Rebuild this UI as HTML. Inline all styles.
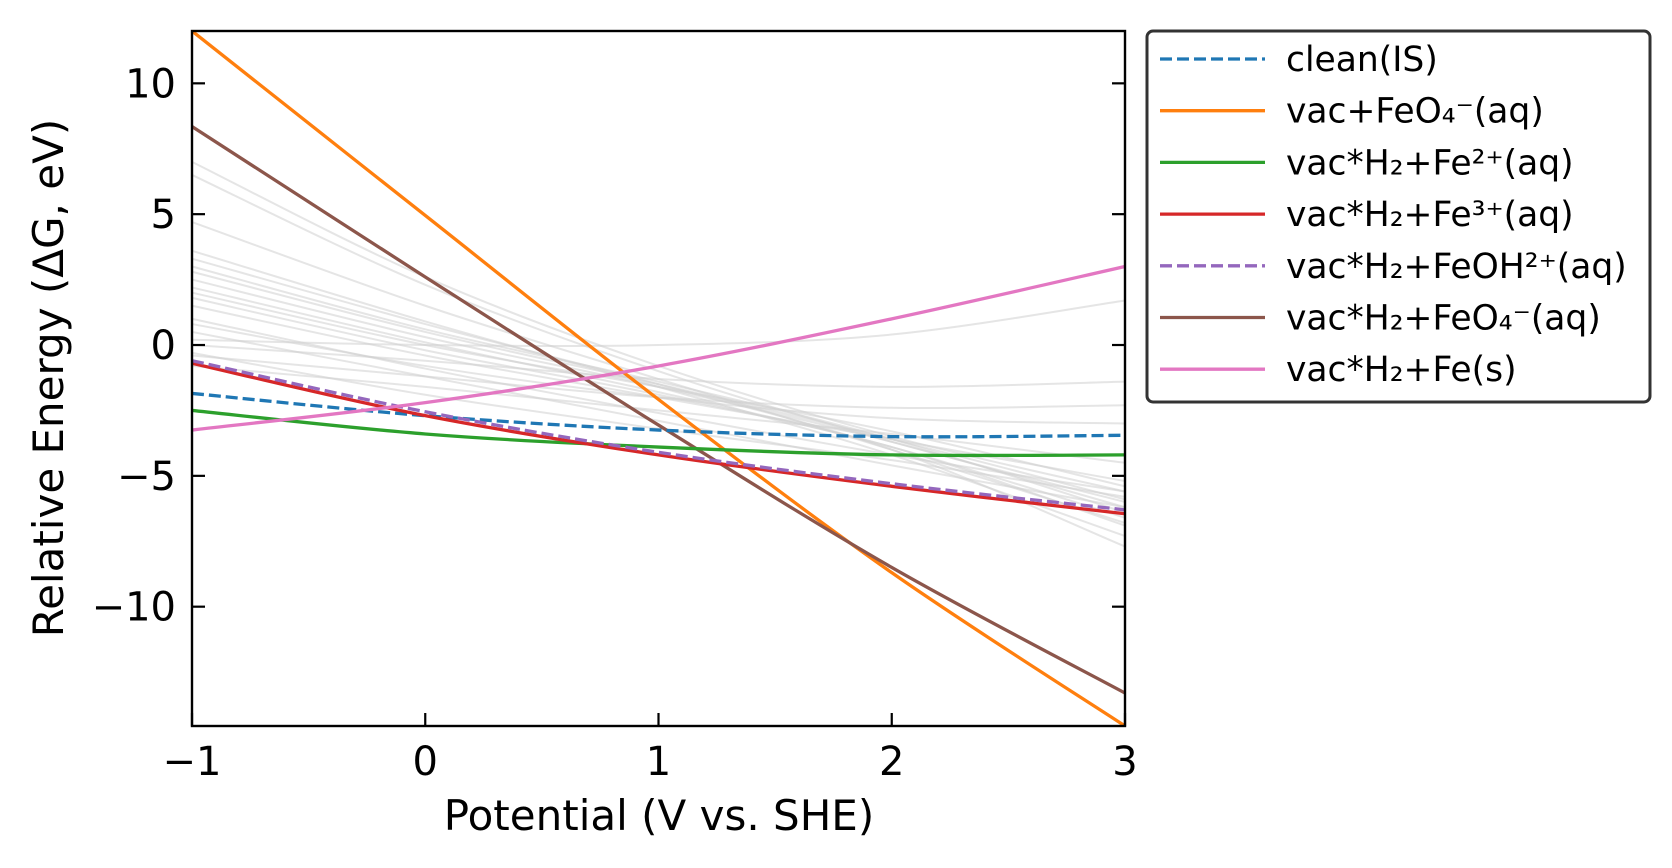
<!DOCTYPE html>
<html><head><meta charset="utf-8"><style>
body{margin:0;background:#fff;}
svg{display:block;font-family:"DejaVu Sans","Liberation Sans",sans-serif;}
</style></head><body>
<svg id="chart" width="1672" height="868" viewBox="0 0 1672 868" xmlns="http://www.w3.org/2000/svg">
<g id="grey"></g>
<g id="series"></g>
<g id="axes"></g>
<text x="659" y="830" font-size="42" text-anchor="middle">Potential (V vs. SHE)</text>
<text transform="translate(63,378) rotate(-90)" font-size="42" text-anchor="middle">Relative Energy (ΔG, eV)</text>
<g id="legend"></g>
</svg>
<script>
const xs = [-1, 0, 1, 2, 3];
const seriesNames = ["clean(IS)","vac+FeO₄⁻(aq)","vac*H₂+Fe²⁺(aq)","vac*H₂+Fe³⁺(aq)","vac*H₂+FeOH²⁺(aq)","vac*H₂+FeO₄⁻(aq)","vac*H₂+Fe(s)"];
const cleanIS = [-1.85, -2.7, -3.25, -3.5, -3.45];
const vacFeO4 = [12.0, 4.95, -2.08, -8.7, -14.56];
const vacH2Fe2 = [-2.5, -3.4, -3.9, -4.2, -4.2];
const vacH2Fe3 = [-0.7, -2.7, -4.2, -5.4, -6.45];
const vacH2FeOH = [-0.6, -2.55, -4.1, -5.3, -6.3];
const vacH2FeO4 = [8.35, 2.6, -3.06, -8.5, -13.3];
const vacH2Fe = [-3.25, -2.2, -0.8, 1.0, 3.0];
const greyCurves = [
 [7.0,2.6,-0.8,-3.5,-5.6],[6.5,2.3,-1.0,-3.7,-6.0],[4.7,1.5,-1.3,-4.0,-6.8],[3.6,0.9,-1.6,-4.2,-7.3],
 [3.3,0.8,-1.5,-4.0,-7.7],[3.0,0.6,-1.4,-3.6,-6.4],[2.8,0.5,-1.5,-3.6,-5.9],[2.5,0.3,-1.6,-3.7,-6.2],
 [2.2,0.1,-1.8,-3.9,-6.6],[2.0,0.0,-1.6,-3.3,-5.4],[1.8,-0.2,-1.9,-3.9,-6.9],[1.5,-0.4,-2.0,-3.6,-5.2],
 [0.2,0.0,0.0,0.4,1.7],[0.0,-0.6,-1.3,-1.6,-1.4],[-0.4,-1.2,-2.0,-2.4,-2.3],[0.8,-0.8,-2.0,-2.8,-3.0],
 [-0.8,-1.6,-2.5,-3.4,-4.5],[1.0,-0.9,-2.6,-4.2,-5.6],[-0.3,-1.9,-3.2,-4.4,-5.8],[0.5,-1.2,-2.9,-4.6,-6.2]
];
const yTicks = [10, 5, 0, -5, -10];
const xTicks = [-1, 0, 1, 2, 3];
const L=192,R=1125,T=31,B=726, xmin=-1,xmax=3,ymin=-14.56,ymax=12;
const sx=v=>L+(v-xmin)/(xmax-xmin)*(R-L);
const sy=v=>B-(v-ymin)/(ymax-ymin)*(B-T);
const NS="http://www.w3.org/2000/svg";
function mk(tag,attrs,parent){const e=document.createElementNS(NS,tag);for(const k in attrs)e.setAttribute(k,attrs[k]);parent.appendChild(e);return e;}
function pathFor(ys){
 const p=xs.map((x,i)=>[sx(x),sy(ys[i])]);
 let d="M"+p[0][0]+","+p[0][1];
 for(let i=0;i<p.length-1;i++){
  const p0=p[i-1]||p[i],p1=p[i],p2=p[i+1],p3=p[i+2]||p[i+1];
  const c1=[p1[0]+(p2[0]-p0[0])/6,p1[1]+(p2[1]-p0[1])/6];
  const c2=[p2[0]-(p3[0]-p1[0])/6,p2[1]-(p3[1]-p1[1])/6];
  d+=" C"+c1+" "+c2+" "+p2;
 }
 return d;
}
const grey=document.getElementById('grey');
greyCurves.forEach((c,i)=>{
 const e=mk('path',{d:pathFor(c),fill:'none',stroke:'#d0d0d0','stroke-opacity':0.55,'stroke-width':2},grey);
 
 
});
const allSeries=[cleanIS,vacFeO4,vacH2Fe2,vacH2Fe3,vacH2FeOH,vacH2FeO4,vacH2Fe];
const colors=["#1f77b4","#ff7f0e","#2ca02c","#d62728","#9467bd","#8c564b","#e377c2"];
const dashed=[true,false,false,false,true,false,false];
const sg=document.getElementById('series');
const cp=mk('clipPath',{id:'clip'},sg);mk('rect',{x:L,y:T,width:R-L,height:B-T},cp);
sg.setAttribute('clip-path','url(#clip)');
[1,5,0,2,3,4,6].forEach(i=>{
 const a={d:pathFor(allSeries[i]),fill:'none',stroke:colors[i],'stroke-width':3.3};
 if(dashed[i])a['stroke-dasharray']='12,5';
 const e=mk('path',a,sg);
 
 
});
const ax=document.getElementById('axes');
mk('rect',{x:L,y:T,width:R-L,height:B-T,fill:'none',stroke:'#000','stroke-width':2.4},ax);
yTicks.forEach(v=>{
 mk('line',{x1:L,x2:L+13,y1:sy(v),y2:sy(v),stroke:'#000','stroke-width':2.2},ax);
 mk('line',{x1:R,x2:R-13,y1:sy(v),y2:sy(v),stroke:'#000','stroke-width':2.2},ax);
 const t=mk('text',{x:L-16,y:sy(v)+14,'font-size':40,'text-anchor':'end'},ax);
 t.textContent=(v<0?'−':'')+Math.abs(v);
 
 
});
xTicks.forEach(v=>{
 mk('line',{x1:sx(v),x2:sx(v),y1:B,y2:B-13,stroke:'#000','stroke-width':2.2},ax);
 const t=mk('text',{x:sx(v),y:775,'font-size':40,'text-anchor':'middle'},ax);
 t.textContent=(v<0?'−':'')+Math.abs(v);
 
 
});
const lg=document.getElementById('legend');
mk('rect',{x:1147,y:31,width:503,height:371,rx:6,fill:'#fff',stroke:'#333','stroke-width':3},lg);
seriesNames.forEach((n,i)=>{
 const y=59+i*51.7;
 const a={x1:1160,x2:1265,y1:y,y2:y,stroke:colors[i],'stroke-width':3.3};
 if(dashed[i])a['stroke-dasharray']='12,5';
 mk('line',a,lg);
 const t=mk('text',{x:1286,y:y+12,'font-size':34.5},lg);
 t.textContent=n;
 
 
});
</script>
</body></html>
